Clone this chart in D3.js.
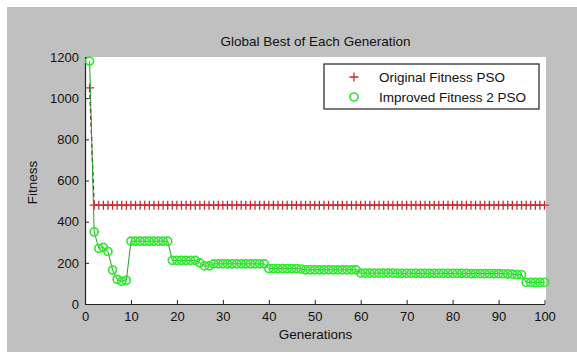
<!DOCTYPE html>
<html>
<head>
<meta charset="utf-8">
<script src="https://cdn.jsdelivr.net/npm/d3@7"></script>
<style>
  html, body { margin: 0; padding: 0; background: #fff; }
  svg { display: block; font-family: "Liberation Sans", Arial, sans-serif; }
</style>
</head>
<body>
<svg id="chart" width="577" height="352"></svg>
<script>
// -------------------------
// Data
// -------------------------
const generations = d3.range(1, 101);

// Original fitness PSO: drops after generation 1, then flat
const originalFitness = [1050].concat(new Array(99).fill(480));

// Improved fitness 2 PSO
const improvedFitness = [
  1180, 350, 270, 275, 255, 165, 120, 110, 115, 305,
  305, 305, 305, 305, 305, 305, 305, 305, 212, 212,
  212, 212, 212, 212, 200, 185, 185, 195, 195, 195,
  195, 195, 195, 195, 195, 195, 195, 195, 195, 172,
  172, 172, 172, 172, 172, 172, 170, 166, 166, 166,
  166, 166, 166, 166, 166, 166, 166, 166, 166, 150,
  150, 150, 150, 150, 150, 150, 150, 149, 149, 149,
  149, 149, 149, 149, 149, 149, 149, 149, 149, 149,
  149, 149, 149, 148, 148, 148, 148, 148, 148, 148,
  147, 146, 145, 143, 142, 105, 105, 105, 105, 105
];

const xTicks = d3.range(0, 101, 10);
const yTicks = d3.range(0, 1201, 200);

const seriesNames = ["Original Fitness PSO", "Improved Fitness 2 PSO"];

// -------------------------
// Layout
// -------------------------
const svg = d3.select("#chart");
const plot = {left: 85, right: 546, top: 57, bottom: 304};

// figure background
svg.append("rect")
  .attr("x", 7).attr("y", 7)
  .attr("width", 577 - 7).attr("height", 352 - 7)
  .attr("fill", "#c0c0c0");

svg.append("rect")
  .attr("x", plot.left).attr("y", plot.top)
  .attr("width", plot.right - plot.left).attr("height", plot.bottom - plot.top)
  .attr("fill", "#ffffff");

const x = d3.scaleLinear().domain([0, 100]).range([plot.left, plot.right - 1.5]);
const y = d3.scaleLinear().domain([0, 1200]).range([plot.bottom, plot.top]);

// -------------------------
// Axes
// -------------------------
const xAxis = svg.append("g")
  .attr("transform", `translate(0,${plot.bottom})`)
  .call(d3.axisBottom(x).tickValues(xTicks).tickFormat(d3.format("d"))
    .tickSizeInner(-4).tickSizeOuter(0).tickPadding(8));
const yAxis = svg.append("g")
  .attr("transform", `translate(${plot.left},0)`)
  .call(d3.axisLeft(y).tickValues(yTicks).tickFormat(d3.format("d"))
    .tickSizeInner(-4).tickSizeOuter(0).tickPadding(6));

[xAxis, yAxis].forEach(g => {
  g.select(".domain").attr("stroke", "#222").attr("stroke-width", 1.2);
  g.selectAll(".tick line").attr("stroke", "#222");
  g.selectAll(".tick text")
    .attr("fill", "#111")
    .style("font-size", "13px")
    .style("font-family", "'Liberation Sans', Arial, sans-serif");
});

// -------------------------
// Series
// -------------------------
const lineGen = vals => d3.line()
  .x((d, i) => x(generations[i]))
  .y(d => y(d))(vals);

// original PSO: dashed line with + markers
svg.append("path")
  .attr("d", lineGen(originalFitness))
  .attr("fill", "none")
  .attr("stroke", "#6a2020")
  .attr("stroke-width", 1.3)
  .attr("stroke-dasharray", "4,3");

const plusSize = 4.5;
svg.append("g").selectAll("path")
  .data(originalFitness)
  .enter()
  .append("path")
  .attr("d", (d, i) => {
    const cx = x(generations[i]), cy = y(d);
    return `M${cx - plusSize},${cy}H${cx + plusSize}M${cx},${cy - plusSize}V${cy + plusSize}`;
  })
  .attr("stroke", "#cc2a2a")
  .attr("stroke-width", 1.3)
  .attr("fill", "none");

// improved PSO: solid green line with circle markers
svg.append("path")
  .attr("d", lineGen(improvedFitness))
  .attr("fill", "none")
  .attr("stroke", "#2a9a2a")
  .attr("stroke-width", 1);

svg.append("g").selectAll("circle")
  .data(improvedFitness)
  .enter()
  .append("circle")
  .attr("cx", (d, i) => x(generations[i]))
  .attr("cy", d => y(d))
  .attr("r", 4)
  .attr("fill", "none")
  .attr("stroke", "#30e830")
  .attr("stroke-width", 1.7);

// -------------------------
// Title & labels
// -------------------------
svg.append("text")
  .attr("x", (plot.left + plot.right) / 2)
  .attr("y", 46)
  .attr("text-anchor", "middle")
  .style("font-size", "13.5px")
  .attr("fill", "#111")
  .text("Global Best of Each Generation");

svg.append("text")
  .attr("x", (plot.left + plot.right) / 2)
  .attr("y", 339)
  .attr("text-anchor", "middle")
  .style("font-size", "13.5px")
  .attr("fill", "#111")
  .text("Generations");

svg.append("text")
  .attr("transform", `translate(37,${(plot.top + plot.bottom) / 2 + 2}) rotate(-90)`)
  .attr("text-anchor", "middle")
  .style("font-size", "13.5px")
  .attr("fill", "#111")
  .text("Fitness");

// -------------------------
// Legend
// -------------------------
const legend = svg.append("g").attr("transform", "translate(324,64)");
legend.append("rect")
  .attr("width", 215).attr("height", 45)
  .attr("fill", "#fff")
  .attr("stroke", "#333")
  .attr("stroke-width", 1.3);

seriesNames.forEach((name, i) => {
  const cy = 13 + i * 20;
  if (i === 0) {
    legend.append("path")
      .attr("d", `M${30 - plusSize},${cy}H${30 + plusSize}M30,${cy - plusSize}V${cy + plusSize}`)
      .attr("stroke", "#cc2a2a").attr("stroke-width", 1.3);
  } else {
    legend.append("circle")
      .attr("cx", 30).attr("cy", cy).attr("r", 4)
      .attr("fill", "none").attr("stroke", "#30e830").attr("stroke-width", 1.7);
  }
  legend.append("text")
    .attr("x", 55).attr("y", cy + 5)
    .style("font-size", "13.5px")
    .attr("fill", "#111")
    .text(name);
});
</script>
</body>
</html>
